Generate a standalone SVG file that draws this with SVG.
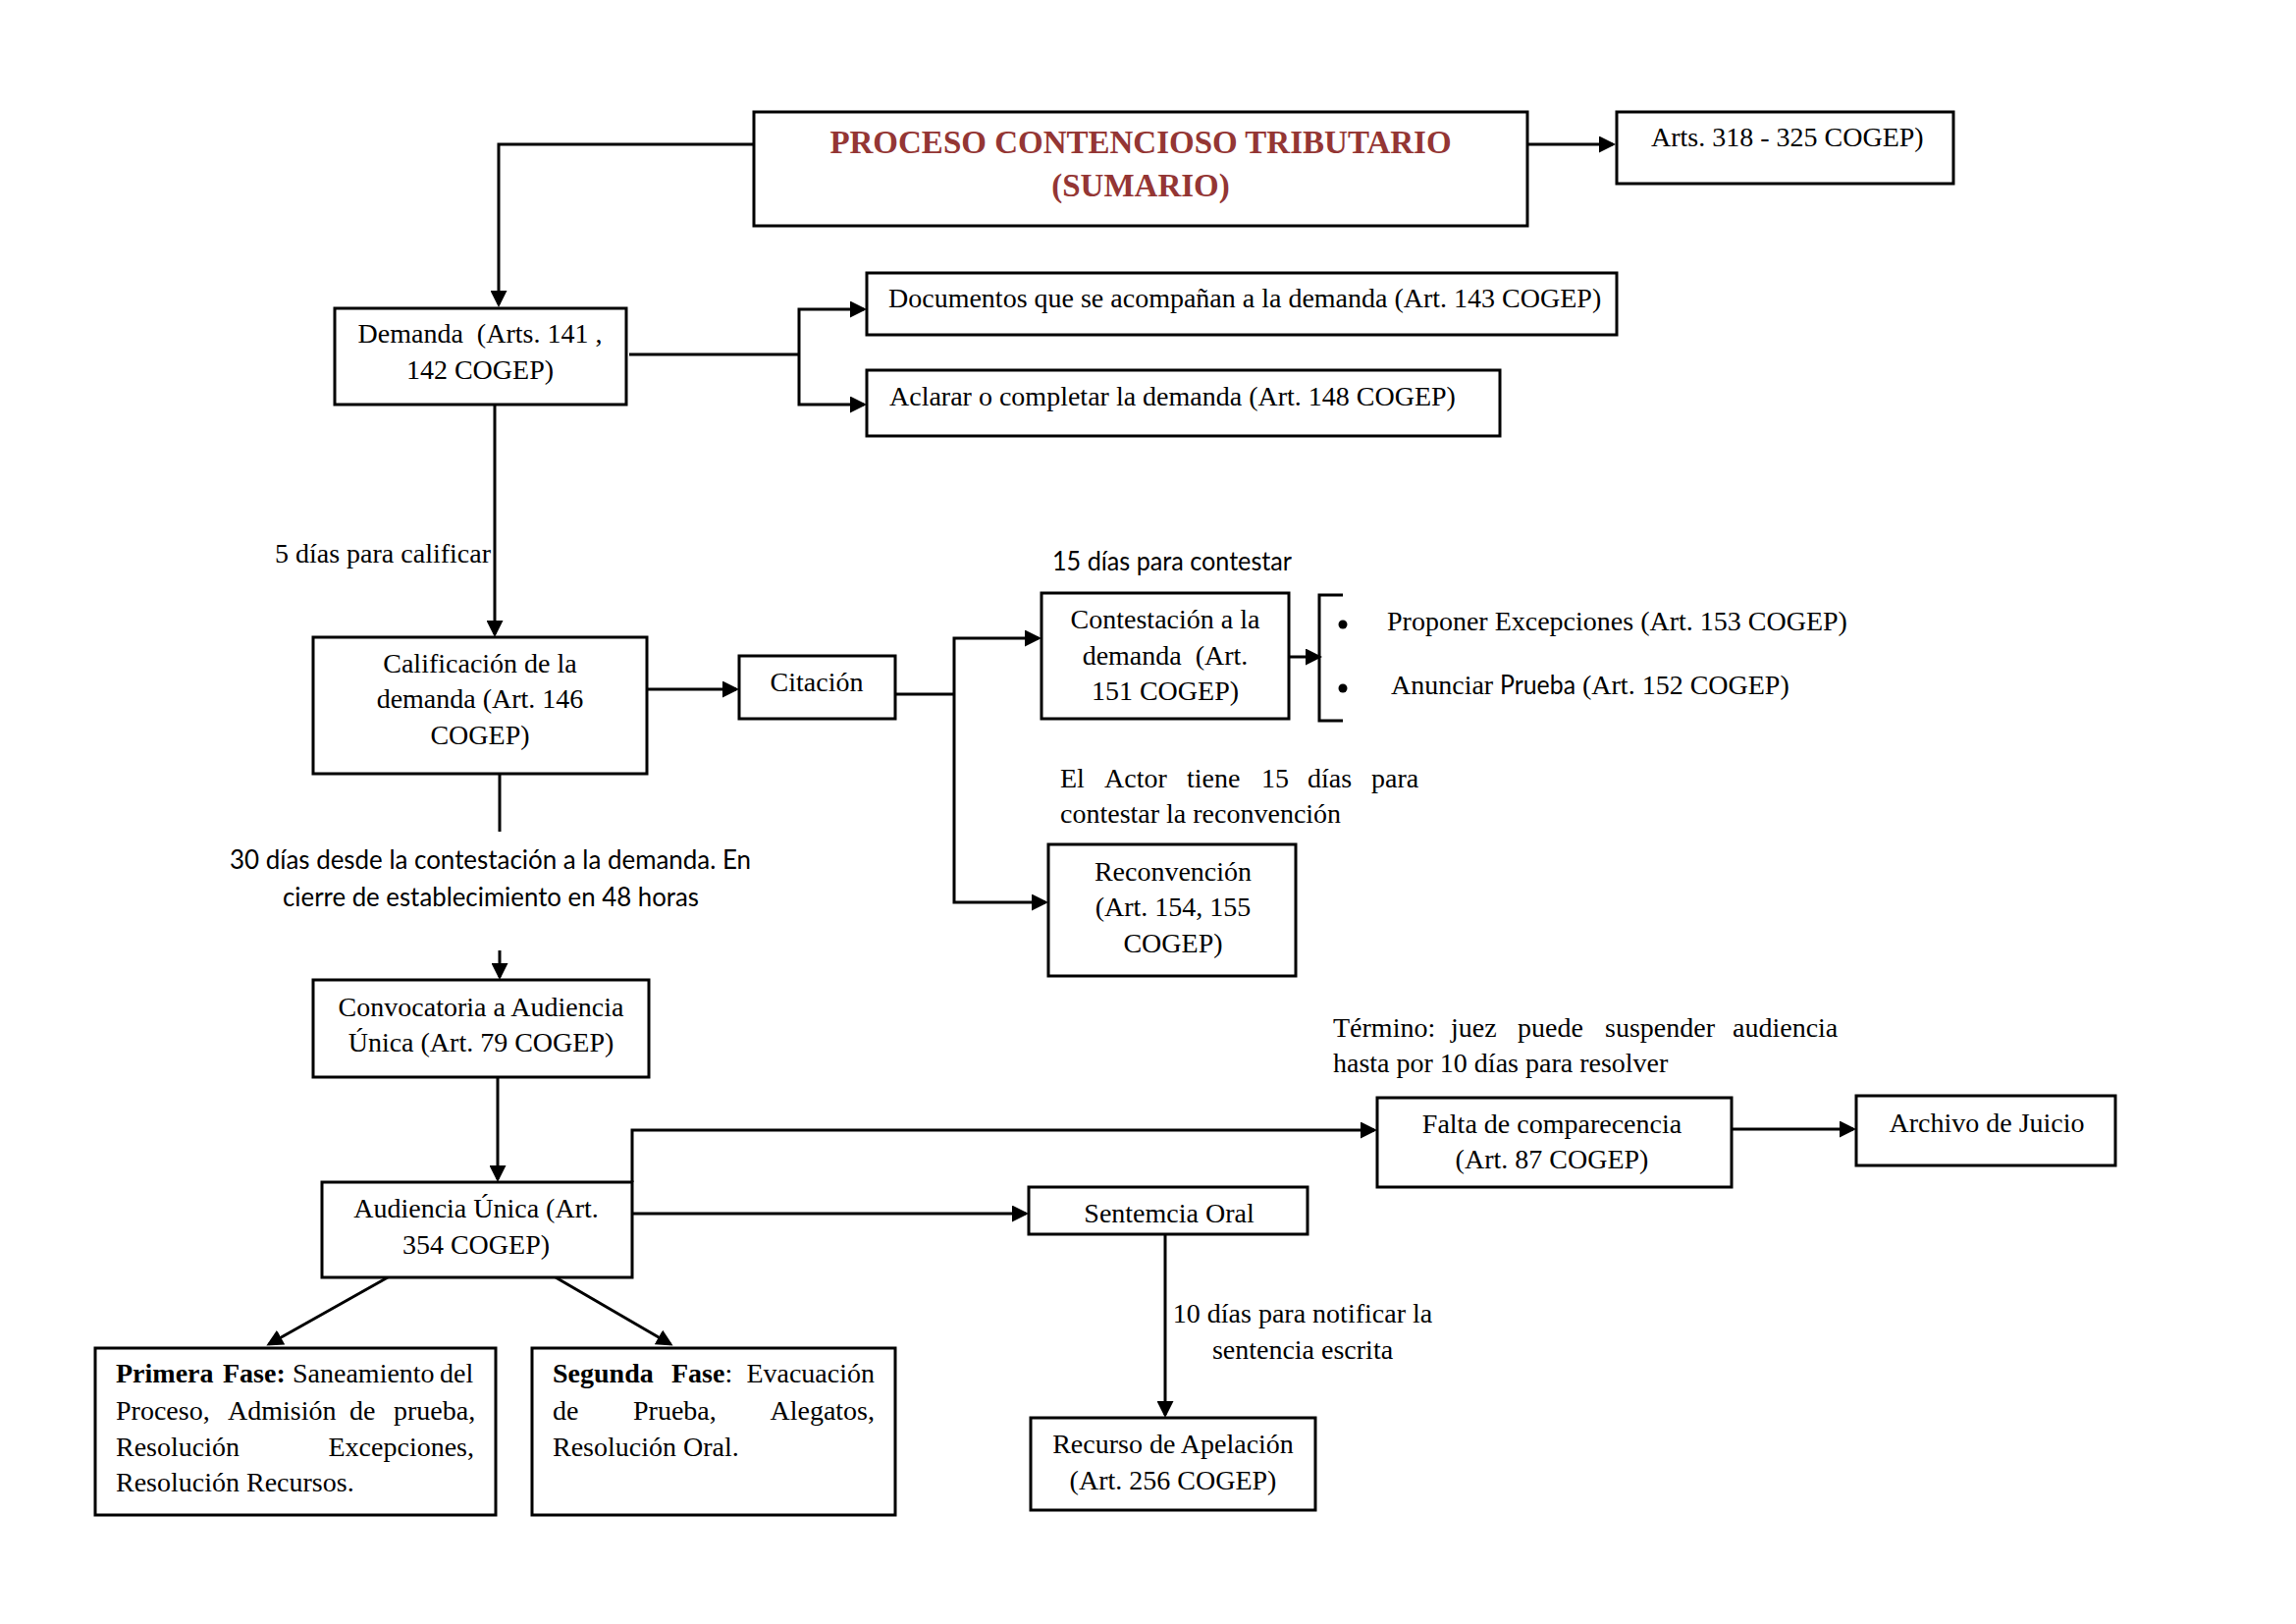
<svg xmlns="http://www.w3.org/2000/svg" width="2339" height="1654" viewBox="0 0 2339 1654">
<style>
  .box { fill: #ffffff; stroke: #000000; stroke-width: 3; }
  .ln { fill: none; stroke: #000000; stroke-width: 3; }
  .arr { fill: none; stroke: #000000; stroke-width: 3; marker-end: url(#ah); }
  .t { font-family: "Liberation Serif", "Times New Roman", serif; font-size: 28px; fill: #000000; }
  .c { text-anchor: middle; }
  .b { font-weight: bold; }
  .title { font-family: "Liberation Serif", "Times New Roman", serif; font-size: 33px; font-weight: bold; fill: #943634; text-anchor: middle; }
  .s { font-family: Lato, "Liberation Sans", sans-serif; font-size: 26px; fill: #000000; }
</style>
<defs>
  <marker id="ah" markerUnits="userSpaceOnUse" markerWidth="17" markerHeight="17" refX="14" refY="8.5" orient="auto">
    <path d="M0,0 L17,8.5 L0,17 Z" fill="#000000"/>
  </marker>
</defs>
<rect width="2339" height="1654" fill="#ffffff"/>

<g id="connectors">
  <path class="arr" d="M767,147 H508 V310"/>
  <path class="arr" d="M1556,147 H1643"/>
  <path class="ln" d="M641,361 H814"/>
  <path class="arr" d="M814,361 V315 H880"/>
  <path class="arr" d="M814,361 V412 H880"/>
  <path class="arr" d="M504,412 V646"/>
  <path class="arr" d="M659,702 H750"/>
  <path class="ln" d="M912,707 H972"/>
  <path class="arr" d="M972,707 V650 H1058"/>
  <path class="arr" d="M972,707 V919 H1065"/>
  <path class="arr" d="M1313,669 H1344"/>
  <path class="ln" d="M1368,606 H1344 V734 H1368"/>
  <path class="ln" d="M509,788 V847"/>
  <path class="arr" d="M509,968 V995"/>
  <path class="arr" d="M507,1097 V1201"/>
  <path class="arr" d="M644,1204 V1151 H1400"/>
  <path class="arr" d="M644,1236 H1045"/>
  <path class="arr" d="M1764,1150 H1888"/>
  <path class="arr" d="M1187,1257 V1441"/>
  <path class="arr" d="M395,1301 L274,1369"/>
  <path class="arr" d="M566,1301 L683,1369"/>
</g>

<g id="n-title">
  <rect class="box" x="768" y="114" width="788" height="116"/>
  <text class="title" x="1162" y="156">PROCESO CONTENCIOSO TRIBUTARIO</text>
  <text class="title" x="1162" y="200">(SUMARIO)</text>
</g>

<g id="n-arts">
  <rect class="box" x="1647" y="114" width="343" height="73"/>
  <text class="t" x="1682" y="149">Arts. 318 - 325 COGEP)</text>
</g>

<g id="n-demanda">
  <rect class="box" x="341" y="314" width="297" height="98"/>
  <text class="t c" x="489" y="349" xml:space="preserve">Demanda  (Arts. 141 ,</text>
  <text class="t c" x="489" y="386">142 COGEP)</text>
</g>

<g id="n-documentos">
  <rect class="box" x="883" y="278" width="764" height="63"/>
  <text class="t" x="905" y="313">Documentos que se acompañan a la demanda (Art. 143 COGEP)</text>
</g>

<g id="n-aclarar">
  <rect class="box" x="883" y="377" width="645" height="67"/>
  <text class="t" x="906" y="413">Aclarar o completar la demanda (Art. 148 COGEP)</text>
</g>

<g id="l-5dias">
  <text class="t" x="500" y="573" text-anchor="end">5 días para calificar</text>
</g>

<g id="n-calificacion">
  <rect class="box" x="319" y="649" width="340" height="139"/>
  <text class="t c" x="489" y="685">Calificación de la</text>
  <text class="t c" x="489" y="721">demanda (Art. 146</text>
  <text class="t c" x="489" y="758">COGEP)</text>
</g>

<g id="n-citacion">
  <rect class="box" x="753" y="668" width="159" height="64"/>
  <text class="t c" x="832" y="704">Citación</text>
</g>

<g id="l-15dias">
  <text class="s" x="1072" y="581" textLength="244" lengthAdjust="spacingAndGlyphs">15 días para contestar</text>
</g>

<g id="n-contestacion">
  <rect class="box" x="1061" y="604" width="252" height="128"/>
  <text class="t c" x="1187" y="640">Contestación a la</text>
  <text class="t c" x="1187" y="677" xml:space="preserve">demanda  (Art.</text>
  <text class="t c" x="1187" y="713">151 COGEP)</text>
</g>

<g id="n-excepciones">
  <circle cx="1368" cy="636" r="4.5" fill="#000000"/>
  <circle cx="1368" cy="701" r="4.5" fill="#000000"/>
  <text class="t" x="1413" y="642">Proponer Excepciones (Art. 153 COGEP)</text>
  <text class="t" y="707"><tspan x="1417">Anunciar</tspan><tspan class="s" x="1528" textLength="77" lengthAdjust="spacingAndGlyphs">Prueba</tspan><tspan x="1612">(Art. 152 COGEP)</tspan></text>
</g>

<g id="l-actor">
  <text class="t" y="802"><tspan x="1080">El</tspan><tspan x="1125">Actor</tspan><tspan x="1209">tiene</tspan><tspan x="1285">15</tspan><tspan x="1332">días</tspan><tspan x="1397">para</tspan></text>
  <text class="t" x="1080" y="838">contestar la reconvención</text>
</g>

<g id="n-reconvencion">
  <rect class="box" x="1068" y="860" width="252" height="134"/>
  <text class="t c" x="1195" y="897">Reconvención</text>
  <text class="t c" x="1195" y="933">(Art. 154, 155</text>
  <text class="t c" x="1195" y="970">COGEP)</text>
</g>

<g id="l-30dias">
  <text class="s" x="234" y="885" textLength="531" lengthAdjust="spacingAndGlyphs">30 días desde la contestación a la demanda. En</text>
  <text class="s" x="288" y="923" textLength="424" lengthAdjust="spacingAndGlyphs">cierre de establecimiento en 48 horas</text>
</g>

<g id="n-convocatoria">
  <rect class="box" x="319" y="998" width="342" height="99"/>
  <text class="t c" x="490" y="1035">Convocatoria a Audiencia</text>
  <text class="t c" x="490" y="1071">Única (Art. 79 COGEP)</text>
</g>

<g id="n-audiencia">
  <rect class="box" x="328" y="1204" width="316" height="97"/>
  <text class="t c" x="485" y="1240">Audiencia Única (Art.</text>
  <text class="t c" x="485" y="1277">354 COGEP)</text>
</g>

<g id="l-termino">
  <text class="t" y="1056"><tspan x="1358">Término:</tspan><tspan x="1478">juez</tspan><tspan x="1546">puede</tspan><tspan x="1635">suspender</tspan><tspan x="1765">audiencia</tspan></text>
  <text class="t" x="1358" y="1092">hasta por 10 días para resolver</text>
</g>

<g id="n-falta">
  <rect class="box" x="1403" y="1118" width="361" height="91"/>
  <text class="t c" x="1581" y="1154">Falta de comparecencia</text>
  <text class="t c" x="1581" y="1190">(Art. 87 COGEP)</text>
</g>

<g id="n-archivo">
  <rect class="box" x="1891" y="1116" width="264" height="71"/>
  <text class="t c" x="2024" y="1153">Archivo de Juicio</text>
</g>

<g id="n-sentencia">
  <rect class="box" x="1048" y="1209" width="284" height="48"/>
  <text class="t c" x="1191" y="1245">Sentemcia Oral</text>
</g>

<g id="l-10dias">
  <text class="t c" x="1327" y="1347">10 días para notificar la</text>
  <text class="t c" x="1327" y="1384">sentencia escrita</text>
</g>

<g id="n-recurso">
  <rect class="box" x="1050" y="1444" width="290" height="94"/>
  <text class="t c" x="1195" y="1480">Recurso de Apelación</text>
  <text class="t c" x="1195" y="1517">(Art. 256 COGEP)</text>
</g>

<g id="n-primera">
  <rect class="box" x="97" y="1373" width="408" height="170"/>
  <text class="t" y="1408"><tspan class="b" x="118">Primera</tspan><tspan class="b" x="227">Fase:</tspan><tspan x="298">Saneamiento</tspan><tspan x="448">del</tspan></text>
  <text class="t" y="1446"><tspan x="118">Proceso,</tspan><tspan x="232">Admisión</tspan><tspan x="356">de</tspan><tspan x="401">prueba,</tspan></text>
  <text class="t" y="1483"><tspan x="118">Resolución</tspan><tspan x="483" text-anchor="end">Excepciones,</tspan></text>
  <text class="t" x="118" y="1519">Resolución Recursos.</text>
</g>

<g id="n-segunda">
  <rect class="box" x="542" y="1373" width="370" height="170"/>
  <text class="t" y="1408"><tspan class="b" x="563">Segunda</tspan><tspan class="b" x="684">Fase</tspan><tspan>:</tspan><tspan x="891" text-anchor="end">Evacuación</tspan></text>
  <text class="t" y="1446"><tspan x="563">de</tspan><tspan x="645">Prueba,</tspan><tspan x="891" text-anchor="end">Alegatos,</tspan></text>
  <text class="t" x="563" y="1483">Resolución Oral.</text>
</g>
</svg>
